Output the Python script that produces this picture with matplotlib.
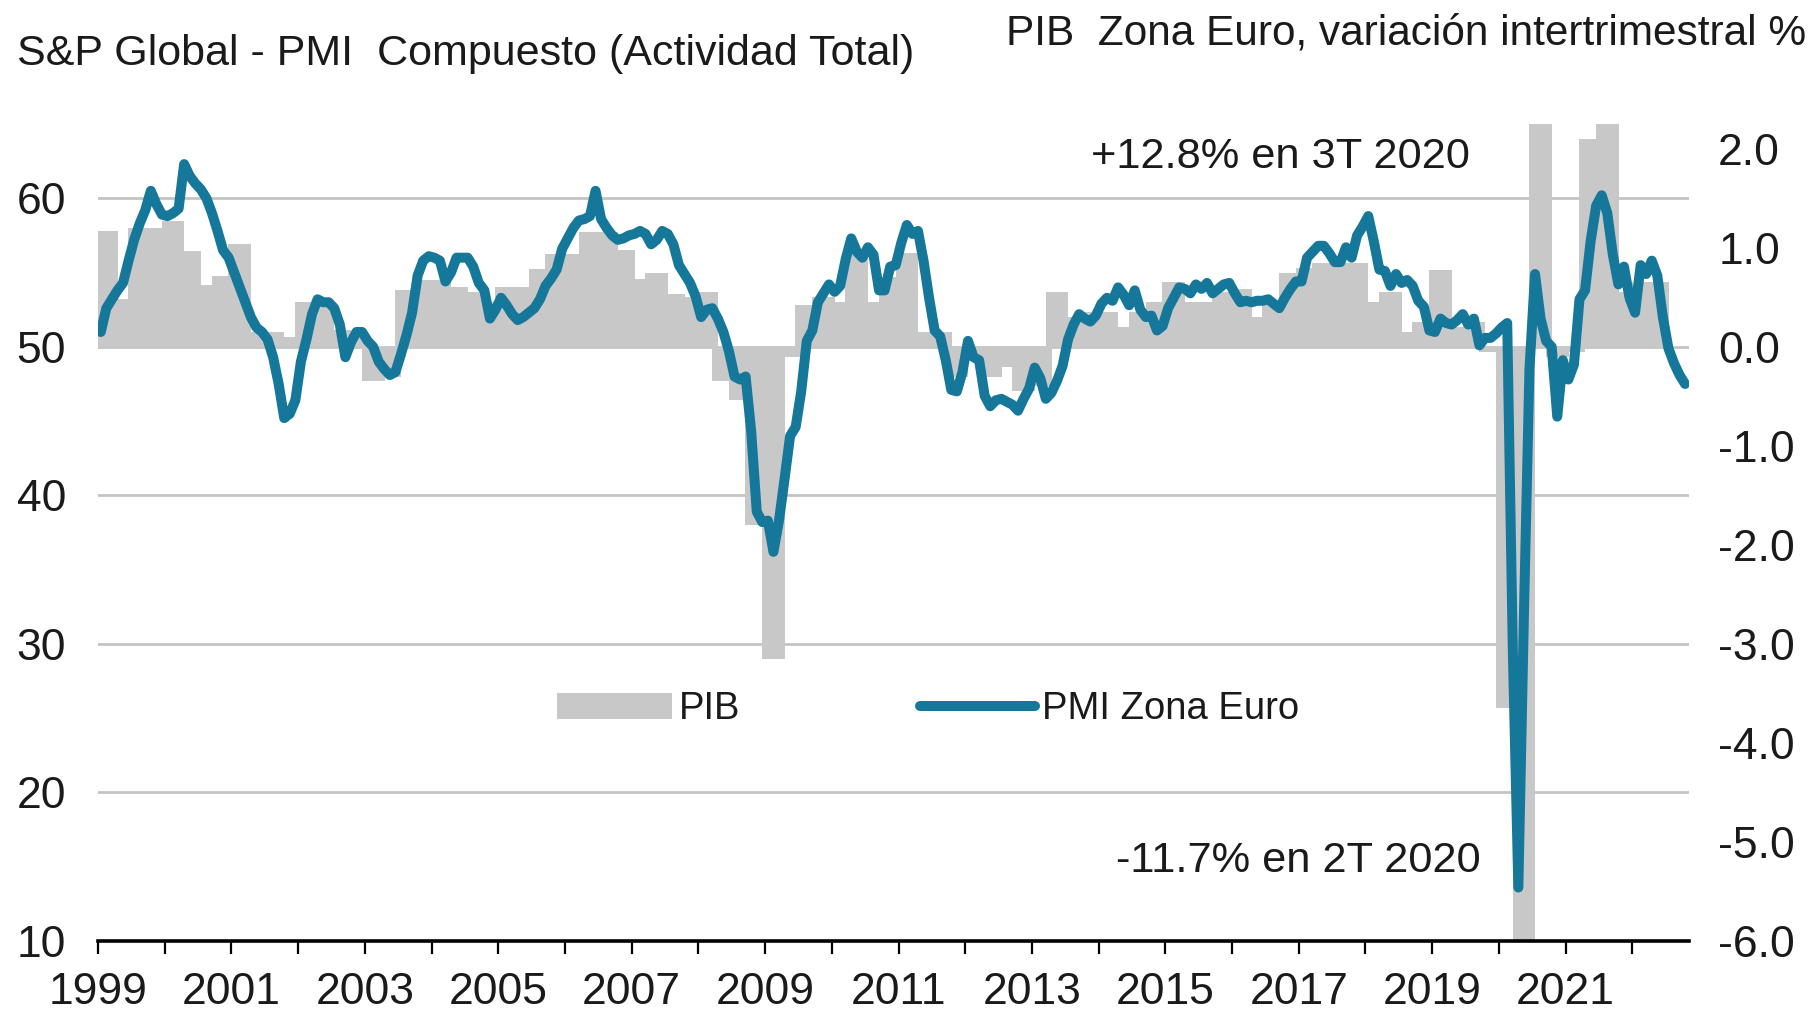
import matplotlib
matplotlib.use("Agg")
import matplotlib.pyplot as plt

plt.rcParams['font.family'] = ['Liberation Sans', 'DejaVu Sans']
plt.rcParams['axes.unicode_minus'] = False

# ---------------- data ----------------
first_year = 1999

# S&P Global Eurozone composite PMI, monthly (Jan 1999 .. Oct 2022)
pmi_1999_2002 = [
    51.0, 52.6, 53.2, 53.8, 54.3, 55.8, 57.2, 58.3, 59.2, 60.5, 59.6, 58.9,
    58.8, 59.0, 59.3, 62.3, 61.5, 61.0, 60.6, 60.0, 59.0, 57.8, 56.5, 56.0,
    55.0, 54.0, 53.0, 52.0, 51.3, 51.0, 50.5, 49.3, 47.5, 45.2, 45.5, 46.4,
    49.0, 50.5, 52.2, 53.2, 53.0, 53.0, 52.6, 51.5, 49.3, 50.3, 51.0, 51.0,
]
pmi_2003_2006 = [
    50.4, 50.0, 49.0, 48.5, 48.1, 48.3, 49.5, 50.8, 52.3, 54.8, 55.8, 56.1,
    56.0, 55.8, 54.4, 55.0, 56.0, 56.0, 56.0, 55.4, 54.3, 53.8, 51.9, 52.5,
    53.3, 52.8, 52.2, 51.8, 52.0, 52.3, 52.6, 53.2, 54.1, 54.6, 55.2, 56.6,
    57.3, 58.0, 58.5, 58.6, 58.8, 60.5, 58.6, 58.0, 57.5, 57.2, 57.3, 57.5,
]
pmi_2007_2010 = [
    57.6, 57.8, 57.6, 56.9, 57.2, 57.8, 57.6, 56.9, 55.5, 54.9, 54.3, 53.4,
    52.0, 52.5, 52.6, 51.9, 51.0, 49.7, 48.0, 47.8, 48.0, 44.3, 38.9, 38.2,
    38.3, 36.2, 38.3, 41.1, 44.0, 44.6, 47.0, 50.4, 51.1, 53.0, 53.6, 54.2,
    53.7, 54.1, 55.9, 57.3, 56.4, 56.0, 56.7, 56.2, 53.8, 53.8, 55.4, 55.5,
]
pmi_2011_2014 = [
    57.0, 58.2, 57.6, 57.8, 55.8, 53.3, 51.1, 50.7, 49.1, 47.1, 47.0, 48.3,
    50.4, 49.3, 49.1, 46.7, 46.0, 46.4, 46.5, 46.3, 46.1, 45.7, 46.5, 47.2,
    48.6, 47.9, 46.5, 46.9, 47.7, 48.7, 50.5, 51.5, 52.2, 51.9, 51.7, 52.1,
    52.9, 53.3, 53.1, 54.0, 53.5, 52.8, 53.8, 52.5, 52.0, 52.1, 51.1, 51.4,
]
pmi_2015_2018 = [
    52.6, 53.3, 54.0, 53.9, 53.6, 54.2, 53.9, 54.3, 53.6, 53.9, 54.2, 54.3,
    53.6, 53.0, 53.1, 53.0, 53.1, 53.1, 53.2, 52.9, 52.6, 53.3, 53.9, 54.4,
    54.4, 56.0, 56.4, 56.8, 56.8, 56.3, 55.7, 55.7, 56.7, 56.0, 57.5, 58.1,
    58.8, 57.1, 55.2, 55.1, 54.1, 54.9, 54.3, 54.5, 54.1, 53.1, 52.7, 51.1,
]
pmi_2019_2022 = [
    51.0, 51.9, 51.6, 51.5, 51.8, 52.2, 51.5, 51.9, 50.1, 50.6, 50.6, 50.9,
    51.3, 51.6, 29.7, 13.6, 31.9, 48.5, 54.9, 51.9, 50.4, 50.0, 45.3, 49.1,
    47.8, 48.8, 53.2, 53.8, 57.1, 59.5, 60.2, 59.0, 56.2, 54.2, 55.4, 53.3,
    52.3, 55.5, 54.9, 55.8, 54.8, 52.0, 49.9, 48.9, 48.1, 47.5,
]

# Euro area GDP, quarter-on-quarter % (1999 Q1 .. 2022 Q2)
gdp_1999_2004 = [
    1.17, 0.48, 1.20, 1.20,
    1.27, 0.97, 0.62, 0.72,
    1.04, 0.15, 0.15, 0.10,
    0.45, 0.45, 0.17, 0.10,
    -0.35, -0.30, 0.57, 0.67,
    0.67, 0.60, 0.55, 0.45,
]
gdp_2005_2010 = [
    0.60, 0.60, 0.79, 0.94,
    0.94, 1.16, 1.16, 0.98,
    0.68, 0.75, 0.53, 0.50,
    0.55, -0.35, -0.54, -1.80,
    -3.15, -0.10, 0.42, 0.50,
    0.45, 0.95, 0.45, 0.70,
]
gdp_2011_2016 = [
    0.95, 0.15, 0.15, -0.30,
    -0.10, -0.30, -0.20, -0.45,
    -0.40, 0.55, 0.30, 0.35,
    0.35, 0.20, 0.35, 0.45,
    0.65, 0.45, 0.45, 0.55,
    0.58, 0.30, 0.45, 0.75,
]
gdp_2017_2022 = [
    0.80, 0.85, 0.85, 0.85,
    0.45, 0.55, 0.15, 0.25,
    0.78, 0.20, 0.25, -0.05,
    -3.65, -11.7, 12.8, -0.10,
    -0.05, 2.10, 2.30, 0.55,
    0.65, 0.65,
]

pmi_ticks = [10, 20, 30, 40, 50, 60]
gdp_ticks = [-6.0, -5.0, -4.0, -3.0, -2.0, -1.0, 0.0, 1.0, 2.0]
tick_years = list(range(1999, 2023))
label_years = list(range(1999, 2022, 2))

title_left = "S&P Global - PMI  Compuesto (Actividad Total)"
title_right = "PIB  Zona Euro, variación intertrimestral %"
note_top = "+12.8% en 3T 2020"
note_bottom = "-11.7% en 2T 2020"
legend_labels = ["PIB", "PMI Zona Euro"]

# ---------------- build ----------------
pmi = pmi_1999_2002 + pmi_2003_2006 + pmi_2007_2010 + pmi_2011_2014 + pmi_2015_2018 + pmi_2019_2022
gdp = gdp_1999_2004 + gdp_2005_2010 + gdp_2011_2016 + gdp_2017_2022
t_month = [first_year + (i + 0.5) / 12 for i in range(len(pmi))]
t_quarter = [first_year + (j + 0.5) / 4 for j in range(len(gdp))]

LINE_C = '#15779a'
BAR_C = '#c8c8c8'
GRID_C = '#c4c4c4'
TXT_C = '#1a1a1a'

W, H = 1814, 1011
fig = plt.figure(figsize=(W / 100, H / 100), dpi=100)
ax = fig.add_axes([98 / W, 1 - 941 / H, (1689 - 98) / W, (941 - 124) / H])  # GDP (right scale)
ax2 = ax.twinx()                                                             # PMI (left scale)

pmi_lim = (10, 65)
gdp_lim = (-6, 2.25)
ax.set_ylim(*gdp_lim)
ax2.set_ylim(*pmi_lim)
ax.set_xlim(1999, 2022.85)

# horizontal grid at the PMI ticks, drawn behind the bars
def pmi_to_gdp(v):
    return gdp_lim[0] + (v - pmi_lim[0]) * (gdp_lim[1] - gdp_lim[0]) / (pmi_lim[1] - pmi_lim[0])

for v in pmi_ticks[1:]:
    ax.axhline(pmi_to_gdp(v), color=GRID_C, lw=2.0, zorder=1)

bars = ax.bar(t_quarter, gdp, width=0.34, color=BAR_C, linewidth=0, zorder=2)
line, = ax2.plot(t_month, pmi, color=LINE_C, lw=7.2, solid_joinstyle='round',
                 solid_capstyle='round', zorder=3)

# axes cosmetics
ax.yaxis.tick_right()
ax2.yaxis.tick_left()
for a in (ax, ax2):
    for s in a.spines.values():
        s.set_visible(False)
ax.spines['bottom'].set_visible(True)
ax.spines['bottom'].set_linewidth(2.6)
ax.spines['bottom'].set_color('black')
ax.spines['bottom'].set_zorder(4)

ax.set_xticks(tick_years)
ax.set_xticklabels([str(y) if y in label_years else '' for y in tick_years])
ax.tick_params(axis='x', direction='out', length=9, width=1.6, color='black',
               labelsize=32, pad=13, labelcolor=TXT_C)

ax2.set_yticks(pmi_ticks)
ax2.set_yticklabels([str(v) for v in pmi_ticks])
ax2.tick_params(axis='y', length=0, labelsize=32, pad=23, labelcolor=TXT_C)

ax.set_yticks(gdp_ticks)
ax.set_yticklabels([f"{v:.1f}" for v in gdp_ticks])
ax.tick_params(axis='y', length=0, labelsize=32, pad=21, labelcolor=TXT_C)

# legend
ax2.legend([bars, line], legend_labels, ncol=2, frameon=False,
           loc='center left', bbox_to_anchor=(557 / W, 1 - 709 / H),
           bbox_transform=fig.transFigure, fontsize=27.5,
           handlelength=3.0, handleheight=0.67, handletextpad=0.2,
           columnspacing=4.7, borderpad=0, borderaxespad=0,
           labelcolor=TXT_C)

# titles and notes
fig.text(17 / W, 1 - 54 / H, title_left, ha='left', va='center', fontsize=31, color=TXT_C)
fig.text(1806 / W, 1 - 34 / H, title_right, ha='right', va='center', fontsize=30.5, color=TXT_C)
fig.text(1470 / W, 1 - 157 / H, note_top, ha='right', va='center', fontsize=31.2, color=TXT_C)
fig.text(1481 / W, 1 - 861 / H, note_bottom, ha='right', va='center', fontsize=31.2, color=TXT_C)

fig.savefig('out.png', dpi=100)
